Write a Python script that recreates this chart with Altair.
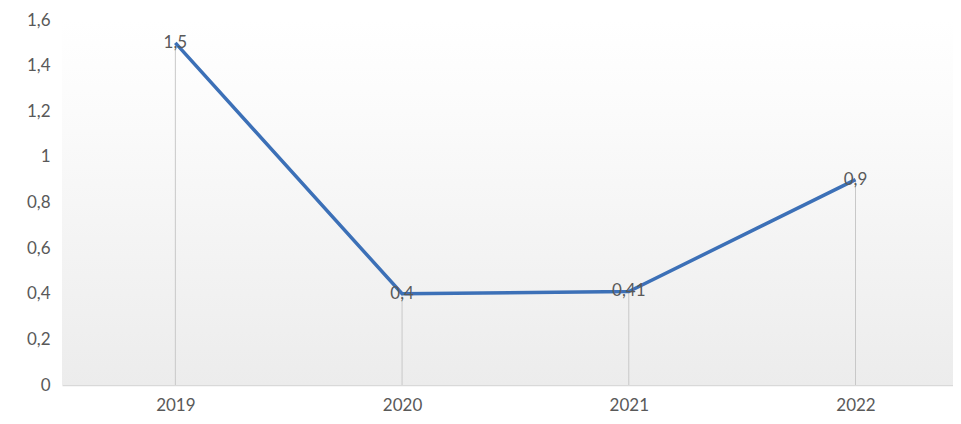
import altair as alt
import pandas as pd

years = [2019, 2020, 2021, 2022]
values = [1.5, 0.4, 0.41, 0.9]
labels = ["1,5", "0,4", "0,41", "0,9"]
y_ticks = [0, 0.2, 0.4, 0.6, 0.8, 1.0, 1.2, 1.4, 1.6]
x_domain = [2018.5, 2022.43]
y_domain = [0, 1.6]

df = pd.DataFrame({"year": years, "value": values, "label": labels})

font = "Lato"
x = alt.X("year:Q", scale=alt.Scale(domain=x_domain, nice=False, zero=False),
          axis=alt.Axis(values=years, format="d", title=None, grid=False, ticks=False,
                        domain=True, domainColor="#d9d9d9", domainWidth=1.5,
                        labelColor="#595959", labelFontSize=17, labelFont=font,
                        labelPadding=12))
y = alt.Y("value:Q", scale=alt.Scale(domain=y_domain, nice=False),
          axis=alt.Axis(values=y_ticks, title=None, grid=False, ticks=False, domain=False,
                        labelColor="#595959", labelFontSize=17, labelFont=font,
                        labelPadding=12,
                        labelExpr="replace(toString(datum.value), '.', ',')"))

base = alt.Chart(df)

bg = alt.Chart(pd.DataFrame({"a": [0]})).mark_rect(
    color=alt.Gradient(
        gradient="linear", x1=0, y1=0, x2=0, y2=1,
        stops=[alt.GradientStop(offset=0, color="#ffffff"),
               alt.GradientStop(offset=0.25, color="#fbfbfb"),
               alt.GradientStop(offset=1, color="#ececec")],
    )
).encode(
    x=alt.datum(x_domain[0]), x2=alt.datum(x_domain[1]),
    y=alt.datum(y_domain[1]), y2=alt.datum(y_domain[0]),
)

drops = base.mark_rule(color="#c8c8c8", strokeWidth=1).encode(
    x=x, y=y, y2=alt.datum(0)
)
line = base.mark_line(color="#3c70b7", strokeWidth=3.5).encode(x=x, y=y)
text = base.mark_text(color="#595959", fontSize=17, font=font, baseline="middle",
                      align="center").encode(x=x, y=y, text="label:N")

chart = (bg + drops + line + text).properties(
    width=891, height=365,
    autosize=alt.AutoSizeParams(type="none"),
    padding={"left": 54, "top": 12, "right": 0, "bottom": 31},
    background="#ffffff",
).configure_view(stroke=None)

chart.save("out.html", embed_options={"renderer": "svg", "actions": False})
